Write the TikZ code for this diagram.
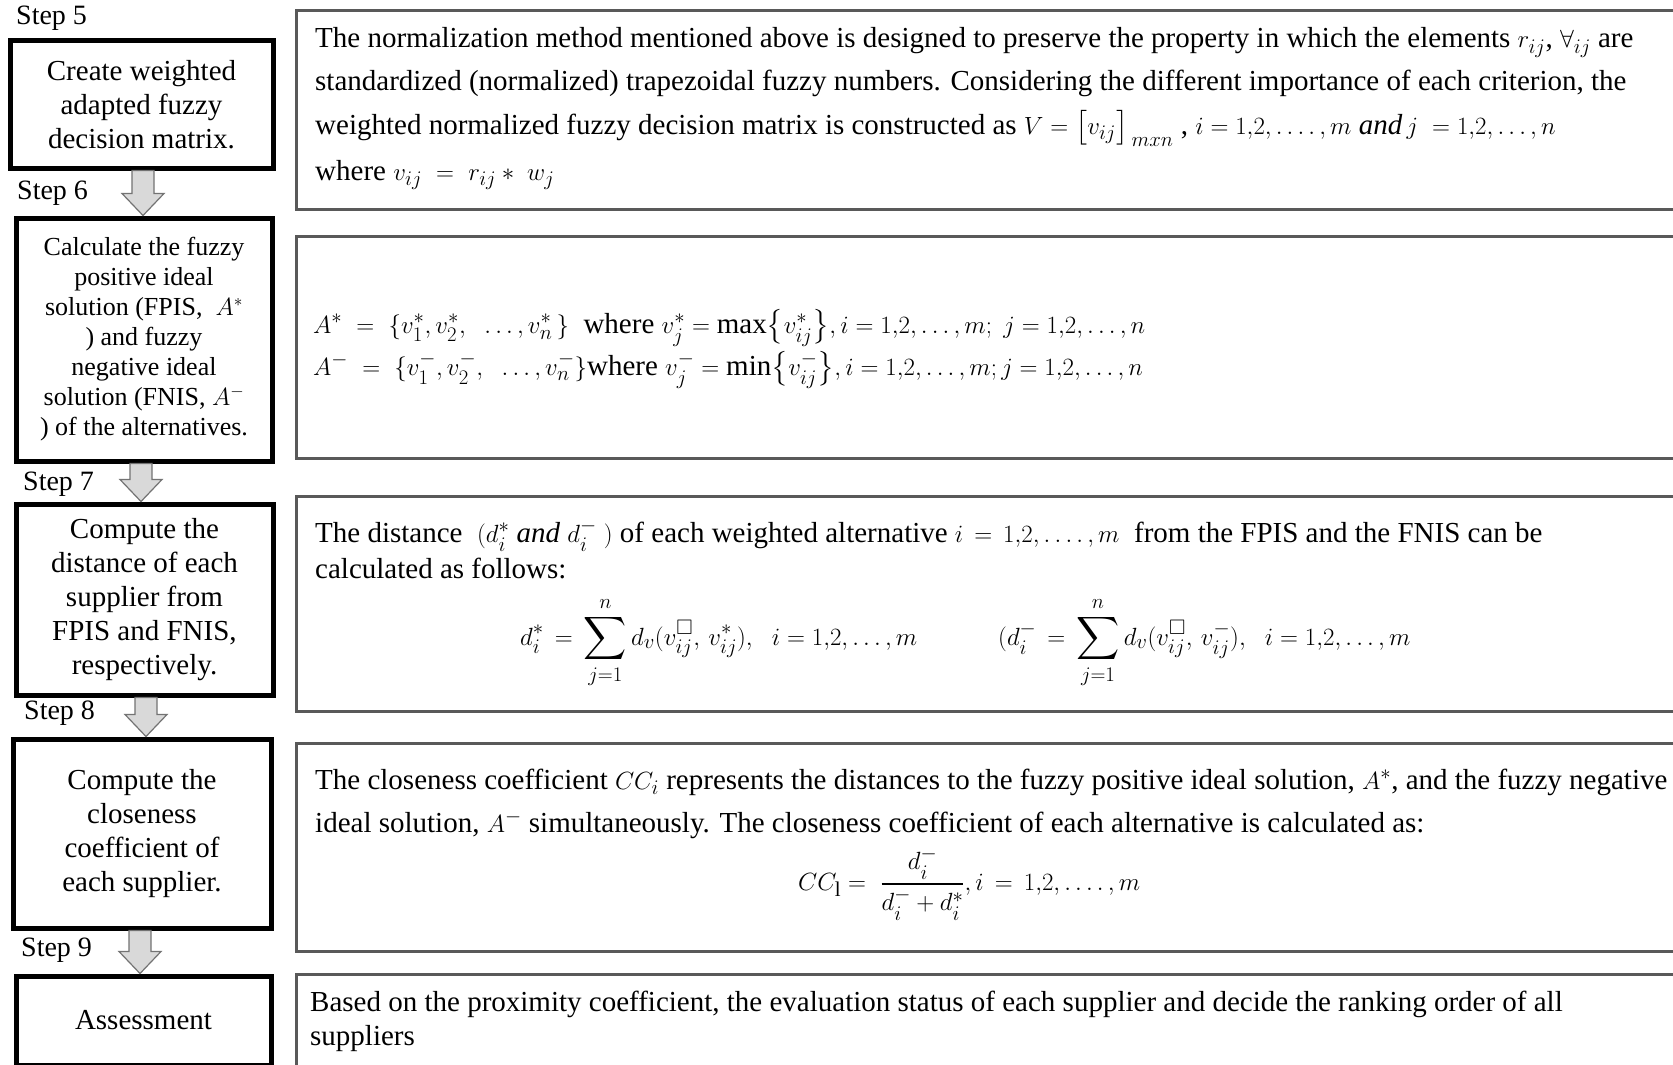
\documentclass[tikz,border=0pt]{standalone}
\usepackage{amsmath,amssymb}
\usepackage{fontspec}
\setmainfont{Liberation Serif}
\usetikzlibrary{calc}
\newcommand\fsz[2]{\fontsize{#1}{#2}\selectfont}
\newcommand\blkarr[3]{%
  \draw[blockarr] let \p1=(#2.south), \p2=(#3.north) in
    ({#1pt-11pt},\y1) -- ({#1pt+11pt},\y1) -- ({#1pt+11pt},\y2+22pt)
    -- ({#1pt+21pt},\y2+22pt) -- ({#1pt},\y2) -- ({#1pt-21pt},\y2+22pt)
    -- ({#1pt-11pt},\y2+22pt) -- cycle;}
\tikzset{
  lbox/.style={draw=black, line width=5pt, fill=white, anchor=north west, inner sep=0pt},
  rbox/.style={draw=black!65, line width=3pt, anchor=north west, inner sep=0pt},
  ltext/.style={align=center, inner sep=0pt, font=\fsz{29}{34}},
  ltextsm/.style={align=center, inner sep=0pt, font=\fsz{26}{30}},
  rtext/.style={anchor=base west, inner sep=0pt, font=\fsz{29}{33}},
  rform/.style={anchor=base west, inner sep=0pt, font=\fsz{30}{34}},
  steplbl/.style={anchor=base west, inner sep=0pt, font=\fsz{28}{32}},
  blockarr/.style={draw=black!55, fill=black!15, line width=1.2pt, line join=miter},
}
\begin{document}
\begin{tikzpicture}[x=1pt,y=-1pt]
\useasboundingbox (0,0) rectangle (1673,1065);
\clip (0,0) rectangle (1673,1065);
\fill[white] (0,0) rectangle (1673,1065);

% right description boxes
\node[rbox, minimum width=1420pt, minimum height=198pt] (r1) at (294.5,9.5) {};
\node[rbox, minimum width=1420pt, minimum height=222pt] (r2) at (294.5,234.5) {};
\node[rbox, minimum width=1420pt, minimum height=215pt] (r3) at (294.5,494.5) {};
\node[rbox, minimum width=1420pt, minimum height=208pt] (r4) at (294.5,741.5) {};
\node[rbox, minimum width=1420pt, minimum height=120pt] (r5) at (294.5,972.5) {};

% left step boxes
\node[lbox, minimum width=263pt, minimum height=127pt] (b1) at (7.5,38.5) {};
\node[lbox, minimum width=256pt, minimum height=243pt] (b2) at (13.5,215.5) {};
\node[lbox, minimum width=257pt, minimum height=191pt] (b3) at (13.5,501.5) {};
\node[lbox, minimum width=258pt, minimum height=189pt] (b4) at (10.5,736.5) {};
\node[lbox, minimum width=255pt, minimum height=89pt] (b5) at (13.5,973.5) {};

% block arrows
\blkarr{143}{b1}{b2}
\blkarr{141}{b2}{b3}
\blkarr{146}{b3}{b4}
\blkarr{140}{b4}{b5}

% step labels
\node[steplbl] (s5) at (16,25) {Step 5};
\node[steplbl] (s6) at (17,199) {Step 6};
\node[steplbl] (s7) at (23,490) {Step 7};
\node[steplbl] (s8) at (24,719) {Step 8};
\node[steplbl] (s9) at (21,956) {Step 9};

% left box texts
\node[ltext] (t1) at (b1.center) {Create weighted\\adapted fuzzy\\decision matrix.};
\node[ltextsm] (t2) at (b2.center) {Calculate the fuzzy\\positive ideal\\solution (FPIS,\ \ $A^{*}$\\) and fuzzy\\negative ideal\\solution (FNIS,\ $A^{-}$\\) of the alternatives.};
\node[ltext] (t3) at (b3.center) {Compute the\\distance of each\\supplier from\\FPIS and FNIS,\\respectively.};
\node[ltext] (t4) at (b4.center) {Compute the\\closeness\\coefficient of\\each supplier.};
\node[ltext] (t5) at (b5.center) {Assessment};

% step 5 description
\node[rtext] (r1a) at (315,48) {The normalization method mentioned above is designed to preserve the property in which the elements $r_{ij}$, $\forall_{ij}$ are};
\node[rtext] (r1b) at (315,91) {standardized (normalized) trapezoidal fuzzy numbers. Considering the different importance of each criterion, the};
\node[rtext] (r1c) at (315,134) {weighted normalized fuzzy decision matrix is constructed as $V = \bigl[v_{ij}\bigr]_{\,mxn}$ , $i = 1{,}2, \ldots.\,, m\ \mathit{and}\, j\ = 1{,}2, \ldots, n$};
\node[rtext] (r1d) at (315,180) {where $v_{ij}\ =\ r_{ij} *\ w_{j}$};

% step 6 description
\node[rtext] (r2a) at (313,333) {$A^{*}\ =\ \{v_1^{*}, v_2^{*},\ \ \ldots, v_n^{*}\,\}$\ \ where $v_j^{*} = \max\bigl\{v_{ij}^{*}\bigr\}, i = 1{,}2, \ldots, m;\ j = 1{,}2, \ldots, n$};
\node[rtext] (r2b) at (313,375) {$A^{-}\ =\ \{v_1^{-}, v_2^{-},\ \ \ldots, v_n^{-}\}$where $v_j^{-} = \min\bigl\{v_{ij}^{-}\bigr\}, i = 1{,}2, \ldots, m; j = 1{,}2, \ldots, n$};

% step 7 description
\node[rtext] (r3a) at (315,542) {The distance\ \ $(d_i^{*}\ \mathit{and}\ d_i^{-}\ )$ of each weighted alternative $i\,=\,1{,}2, \ldots.\,, m$\ \ from the FPIS and the FNIS can be};
\node[rtext] (r3b) at (315,578) {calculated as follows:};
\node[rform] (r3c) at (520,645) {$\displaystyle d_i^{*}\,=\,\sum_{j=1}^{n} d_v(v_{ij}^{\square},\,v_{ij}^{*}),\ \ i = 1{,}2, \ldots, m$};
\node[rform] (r3d) at (998,645) {$\displaystyle (d_i^{-}\,=\,\sum_{j=1}^{n} d_v(v_{ij}^{\square},\,v_{ij}^{-}),\ \ i = 1{,}2, \ldots, m$};

% step 8 description
\node[rtext] (r4a) at (315,789) {The closeness coefficient $CC_i$ represents the distances to the fuzzy positive ideal solution, $A^{*}$, and the fuzzy negative};
\node[rtext] (r4b) at (315,832) {ideal solution, $A^{-}$ simultaneously. The closeness coefficient of each alternative is calculated as:};
\node[rform, anchor=west] (r4c) at (798,884) {$\displaystyle CC_{\mathrm{l}} =\ \frac{d_i^{-}}{d_i^{-} + d_i^{*}}, i\,=\,1{,}2, \ldots.\,, m$};

% step 9 description
\node[rtext] (r5a) at (310,1011) {Based on the proximity coefficient, the evaluation status of each supplier and decide the ranking order of all};
\node[rtext] (r5b) at (310,1045) {suppliers};
\end{tikzpicture}
\end{document}
